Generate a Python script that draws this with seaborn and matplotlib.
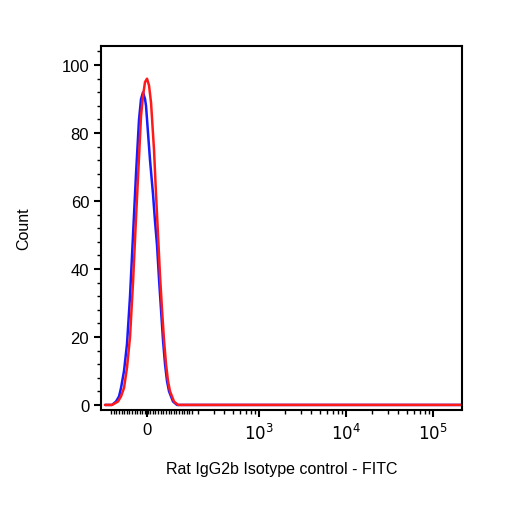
import numpy as np
import pandas as pd
import matplotlib
matplotlib.use("Agg")
import matplotlib.pyplot as plt
import seaborn as sns

# x positions in display units (decades; 0 sits at 1.713, 10^3 at 3)
zero_pos = 1.713
red_px = [105, 112, 118, 121, 124, 127, 130, 133, 136, 139, 141, 143, 145, 147, 149, 151,
          154, 156, 158, 160, 162, 164, 166, 168, 170, 174, 178, 462]
red_cnt = [0, 0, 1, 2.5, 5, 11, 20, 36, 55, 73, 85, 91, 95, 96, 94, 89,
           75, 62, 50, 38, 28, 19, 12, 7, 4, 1, 0, 0]
blue_px = [105, 112, 116, 119, 121, 124, 127, 130, 133, 136, 139, 141, 143, 145, 146, 148,
           150, 153, 155, 157, 159, 161, 163, 165, 167, 169, 173, 177, 462]
blue_cnt = [0, 0, 1, 2.5, 5, 10, 18, 32, 50, 68, 84, 90, 92, 90, 88, 80,
            72, 62, 54, 47, 37, 28, 19, 12, 7, 4, 1, 0, 0]


def px_to_u(px):
    return zero_pos + (np.array(px) - 147) / 87.0


df = pd.concat([
    pd.DataFrame({"x": px_to_u(blue_px), "y": blue_cnt, "s": "isotype"}),
    pd.DataFrame({"x": px_to_u(red_px), "y": red_cnt, "s": "unstained"}),
])

sns.set_style("ticks")
plt.rcParams["font.family"] = ["Liberation Sans", "DejaVu Sans"]
plt.rcParams["text.color"] = "black"
plt.rcParams["axes.labelcolor"] = "black"
plt.rcParams["xtick.color"] = "black"
plt.rcParams["ytick.color"] = "black"
fig = plt.figure(figsize=(5.06, 5.06), dpi=100)
ax = fig.add_axes([0.1996, 0.1877, 0.7134, 0.7193])
sns.lineplot(data=df, x="x", y="y", hue="s", palette=["#1a1aff", "#ff1a1a"],
             legend=False, ax=ax, linewidth=1.8, sort=False, estimator=None)

ax.set_xlim(1.184, 5.333)
ax.set_ylim(-1.5, 105.6)
ax.set_xticks([zero_pos, 3, 4, 5])
ax.set_xticklabels(["0", "$10^3$", "$10^4$", "$10^5$"])
minor = []
for d in [2, 3, 4]:
    minor += [d + np.log10(k) for k in range(2, 10)]
minor += list(np.arange(1.30, 2.25, 0.03))
ax.set_xticks(minor, minor=True)
ax.set_yticks([0, 20, 40, 60, 80, 100])
ax.set_yticks(np.arange(0, 105, 4), minor=True)
ax.tick_params(axis="both", which="major", length=5, width=1.5, labelsize=12)
ax.tick_params(axis="both", which="minor", length=3, width=1)
for s in ax.spines.values():
    s.set_linewidth(1.5)
    s.set_color("black")
ax.set_xlabel("Rat IgG2b Isotype control - FITC", fontsize=11.5, labelpad=14)
ax.set_ylabel("Count", fontsize=11.5, labelpad=22)
fig.savefig("out.png", dpi=100)
